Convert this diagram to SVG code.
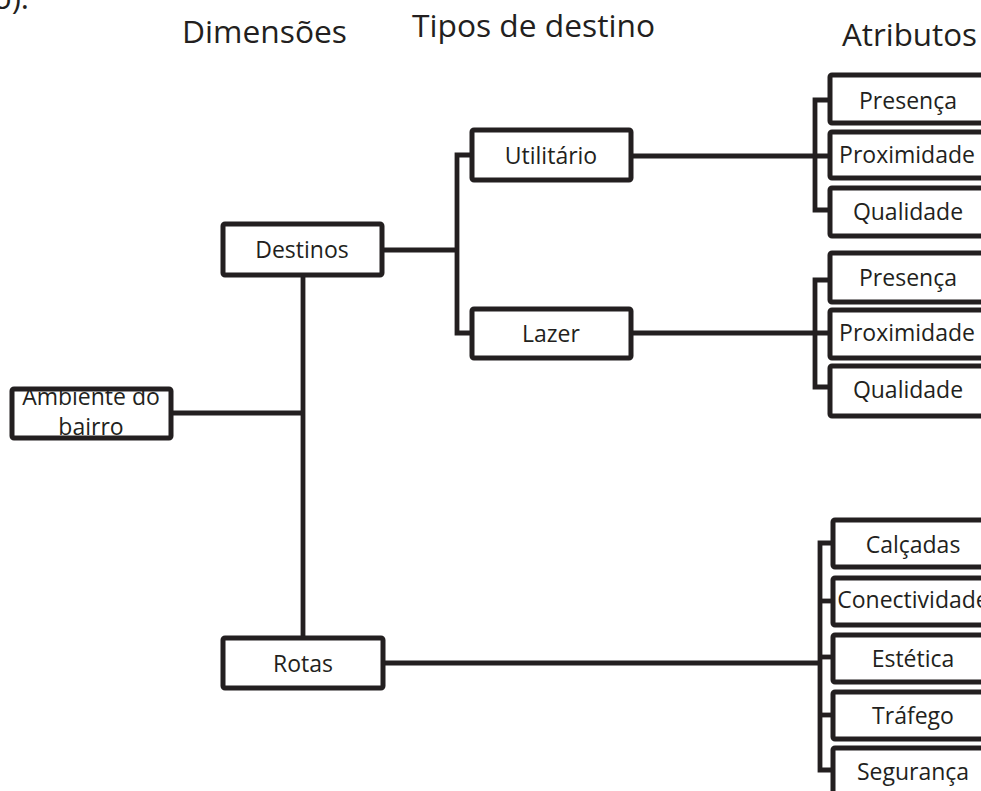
<svg xmlns="http://www.w3.org/2000/svg" width="981" height="791" viewBox="0 0 981 791">
<style>
  .bg { fill: #ffffff; }
  .box { fill: #ffffff; stroke: #231f20; stroke-width: 5; stroke-linejoin: round; }
  .ln { fill: none; stroke: #231f20; stroke-width: 4.8; stroke-linejoin: miter; }
  .t { font-family: "Open Sans", "Noto Sans", "DejaVu Sans", sans-serif; font-size: 23px; fill: #231f20; text-anchor: middle; }
  .h { font-family: "Open Sans", "Noto Sans", "DejaVu Sans", sans-serif; font-size: 31px; fill: #231f20; }
</style>
<rect class="bg" x="0" y="0" width="981" height="791"/>

<g id="fragment">
  <text class="h" x="-7" y="9">o).</text>
</g>

<g id="headers">
  <text class="h" x="182" y="43" textLength="165" lengthAdjust="spacingAndGlyphs">Dimensões</text>
  <text class="h" x="412" y="37" textLength="243" lengthAdjust="spacingAndGlyphs">Tipos de destino</text>
  <text class="h" x="842" y="46" textLength="135" lengthAdjust="spacingAndGlyphs">Atributos</text>
</g>

<g id="connectors">
  <path class="ln" d="M171,413 H303"/>
  <path class="ln" d="M303,275 V638"/>
  <path class="ln" d="M382,250 H457"/>
  <path class="ln" d="M472,155 H457 V333 H472"/>
  <path class="ln" d="M631,156 H830"/>
  <path class="ln" d="M830,100 H815 V210 H830"/>
  <path class="ln" d="M631,333 H830"/>
  <path class="ln" d="M830,280 H815 V387 H830"/>
  <path class="ln" d="M383,663 H820"/>
  <path class="ln" d="M833,543 H820 V770 H833"/>
  <path class="ln" d="M820,601 H833"/>
  <path class="ln" d="M820,657 H833"/>
  <path class="ln" d="M820,715 H833"/>
</g>

<g id="ambiente">
  <rect class="box" x="12" y="389" width="159" height="49" rx="2"/>
  <text class="t" x="91" y="405">Ambiente do</text>
  <text class="t" x="91" y="435">bairro</text>
</g>
<g id="destinos">
  <rect class="box" x="223" y="224" width="159" height="51" rx="2"/>
  <text class="t" x="302" y="258">Destinos</text>
</g>
<g id="rotas">
  <rect class="box" x="223" y="638" width="160" height="50" rx="2"/>
  <text class="t" x="303" y="672">Rotas</text>
</g>
<g id="utilitario">
  <rect class="box" x="472" y="130" width="159" height="50" rx="2"/>
  <text class="t" x="551" y="164">Utilitário</text>
</g>
<g id="lazer">
  <rect class="box" x="472" y="309" width="159" height="49" rx="2"/>
  <text class="t" x="551" y="342">Lazer</text>
</g>

<g id="util-presenca">
  <rect class="box" x="830" y="75" width="158" height="48" rx="2"/>
  <text class="t" x="908" y="109">Presença</text>
</g>
<g id="util-proximidade">
  <rect class="box" x="830" y="132" width="158" height="46" rx="2"/>
  <text class="t" x="907" y="163">Proximidade</text>
</g>
<g id="util-qualidade">
  <rect class="box" x="830" y="188" width="158" height="48" rx="2"/>
  <text class="t" x="908" y="220">Qualidade</text>
</g>

<g id="lazer-presenca">
  <rect class="box" x="830" y="253" width="158" height="49" rx="2"/>
  <text class="t" x="908" y="286">Presença</text>
</g>
<g id="lazer-proximidade">
  <rect class="box" x="830" y="310" width="158" height="48" rx="2"/>
  <text class="t" x="907" y="341">Proximidade</text>
</g>
<g id="lazer-qualidade">
  <rect class="box" x="830" y="366" width="158" height="50" rx="2"/>
  <text class="t" x="908" y="398">Qualidade</text>
</g>

<g id="calcadas">
  <rect class="box" x="833" y="520" width="160" height="47" rx="2"/>
  <text class="t" x="913" y="553">Calçadas</text>
</g>
<g id="conectividade">
  <rect class="box" x="833" y="578" width="160" height="47" rx="2"/>
  <text class="t" x="913" y="608">Conectividade</text>
</g>
<g id="estetica">
  <rect class="box" x="833" y="635" width="160" height="47" rx="2"/>
  <text class="t" x="913" y="667">Estética</text>
</g>
<g id="trafego">
  <rect class="box" x="833" y="692" width="160" height="47" rx="2"/>
  <text class="t" x="913" y="724">Tráfego</text>
</g>
<g id="seguranca">
  <rect class="box" x="833" y="748" width="160" height="60" rx="2"/>
  <text class="t" x="913" y="780">Segurança</text>
</g>
</svg>
